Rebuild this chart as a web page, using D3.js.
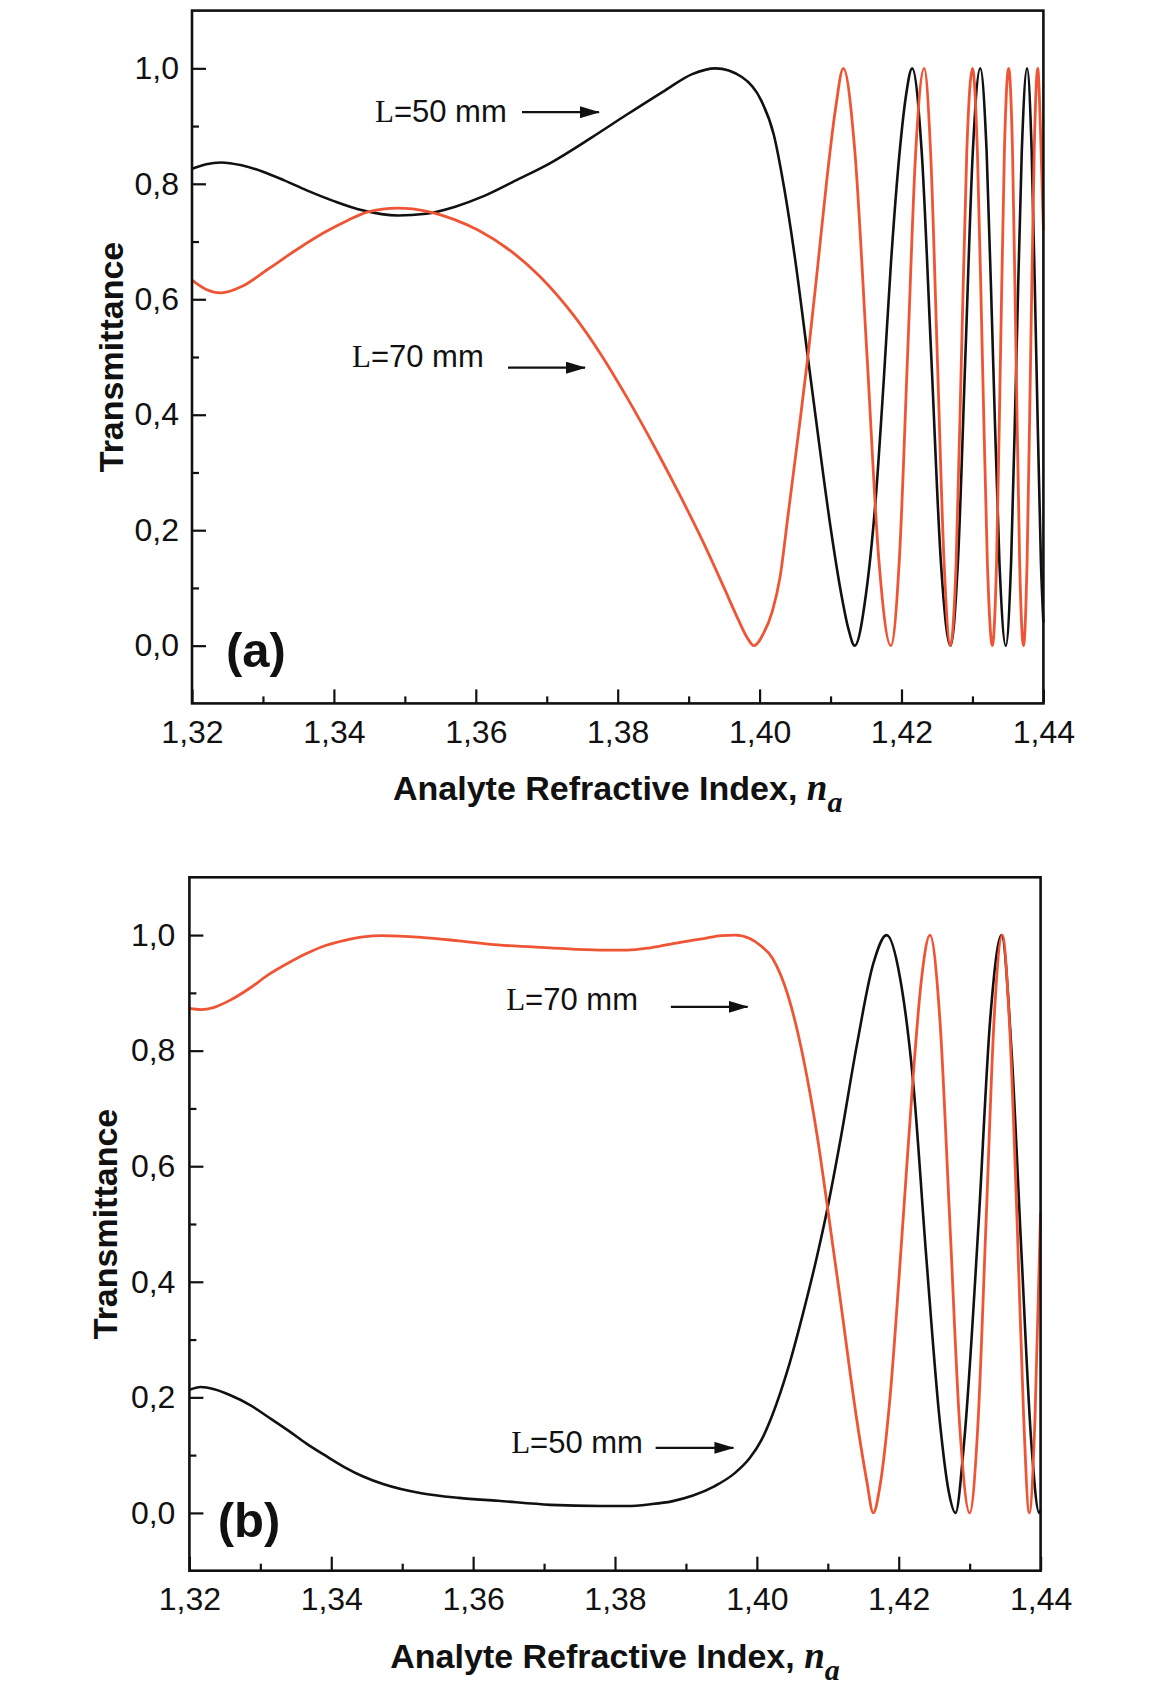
<!DOCTYPE html>
<html>
<head>
<meta charset="utf-8">
<script src="https://cdn.jsdelivr.net/npm/d3@7"></script>
<style>
  body { margin: 0; background: #fff; }
  svg { display: block; }
</style>
</head>
<body>
<svg id="chart"></svg>
<script>
// axis ticks
const xMajor = [1.32, 1.34, 1.36, 1.38, 1.40, 1.42, 1.44];
const xMinor = [1.33, 1.35, 1.37, 1.39, 1.41, 1.43];
const yMajor = [0, 0.2, 0.4, 0.6, 0.8, 1.0];
const yMinor = [0.1, 0.3, 0.5, 0.7, 0.9];

// panel (a): [refractive index, transmittance]
const aL50 = [
  [1.3200, 0.826], [1.3220, 0.834], [1.3241, 0.837], [1.3270, 0.832], [1.3300, 0.821],
  [1.3330, 0.806], [1.3361, 0.789], [1.3400, 0.770], [1.3440, 0.754], [1.3490, 0.745],
  [1.3530, 0.748], [1.3570, 0.760], [1.3612, 0.779], [1.3660, 0.808], [1.3705, 0.836],
  [1.3763, 0.880], [1.3813, 0.920], [1.3867, 0.962], [1.3905, 0.990], [1.3938, 1.000],
  [1.3975, 0.985], [1.4002, 0.945], [1.4020, 0.885], [1.4035, 0.790], [1.4050, 0.670],
  [1.4068, 0.500], [1.4085, 0.340], [1.4100, 0.205], [1.4115, 0.090], [1.4125, 0.030],
  [1.4134, 0.000], [1.4150, 0.090],
  [1.4164, 0.260], [1.4175, 0.460], [1.4185, 0.660], [1.4197, 0.850], [1.4206, 0.950],
  [1.4215, 1.000], [1.42285, 0.855], [1.4242, 0.500], [1.42555, 0.145], [1.4269, 0.000],
  [1.42795, 0.145], [1.4290, 0.500], [1.43005, 0.855], [1.4311, 1.000], [1.4320, 0.855],
  [1.4329, 0.500], [1.4338, 0.145], [1.4347, 0.000], [1.43545, 0.145], [1.4362, 0.500],
  [1.43695, 0.855], [1.4377, 1.000], [1.43835, 0.855], [1.4390, 0.500], [1.43965, 0.145],
  [1.4400, 0.040]
];
const aL70 = [
  [1.3200, 0.633], [1.3220, 0.617], [1.3241, 0.611], [1.3270, 0.622], [1.3307, 0.652],
  [1.3350, 0.688], [1.3387, 0.716], [1.3420, 0.737], [1.3447, 0.751], [1.3490, 0.758],
  [1.3533, 0.752], [1.3570, 0.738], [1.3603, 0.720], [1.3650, 0.683], [1.3690, 0.640],
  [1.3738, 0.572], [1.3775, 0.507], [1.3813, 0.430], [1.3856, 0.335], [1.3890, 0.255],
  [1.3921, 0.178], [1.3950, 0.100], [1.3970, 0.045], [1.3982, 0.015], [1.3992, 0.000],
  [1.4005, 0.020], [1.4018, 0.060], [1.4029, 0.120], [1.4040, 0.225], [1.4055, 0.370],
  [1.4068, 0.500], [1.4083, 0.670], [1.4095, 0.810], [1.4107, 0.930], [1.4118, 1.000],
  [1.4134, 0.860],
  [1.41515, 0.500], [1.4168, 0.150], [1.4185, 0.000], [1.4197, 0.150], [1.42085, 0.500],
  [1.4220, 0.855], [1.4232, 1.000], [1.4241, 0.855], [1.42505, 0.500], [1.4260, 0.145],
  [1.4269, 0.000], [1.4277, 0.145], [1.42845, 0.500], [1.4292, 0.855], [1.4300, 1.000],
  [1.4307, 0.855], [1.4314, 0.500], [1.4321, 0.145], [1.4328, 0.000], [1.4334, 0.145],
  [1.43395, 0.500], [1.4345, 0.855], [1.4351, 1.000], [1.43565, 0.855], [1.43615, 0.500],
  [1.43665, 0.145], [1.4372, 0.000], [1.4377, 0.145], [1.4382, 0.500], [1.4387, 0.855],
  [1.4392, 1.000], [1.4396, 0.890], [1.4400, 0.720]
];

// panel (b)
const bL50 = [
  [1.3200, 0.213], [1.3216, 0.218], [1.3235, 0.214], [1.3257, 0.204], [1.3285, 0.187],
  [1.3311, 0.166], [1.3340, 0.142], [1.3365, 0.120], [1.3392, 0.099], [1.3419, 0.079],
  [1.3445, 0.063], [1.3473, 0.050], [1.3527, 0.034], [1.3580, 0.026], [1.3635, 0.021],
  [1.3709, 0.014], [1.3779, 0.012], [1.3817, 0.012], [1.3850, 0.015], [1.3880, 0.020],
  [1.3910, 0.030], [1.3940, 0.046], [1.3968, 0.068], [1.3990, 0.095], [1.4006, 0.125],
  [1.4022, 0.170], [1.4044, 0.250], [1.4065, 0.345], [1.4084, 0.440], [1.4100, 0.530],
  [1.4117, 0.640], [1.4141, 0.810], [1.4164, 0.950], [1.4183, 1.000], [1.4202, 0.925],
  [1.4220, 0.750], [1.4239, 0.440], [1.4258, 0.157], [1.4270, 0.040], [1.4280, 0.000],
  [1.4292, 0.120], [1.43125, 0.500], [1.4329, 0.855], [1.4345, 1.000], [1.4359, 0.800],
  [1.4373, 0.450], [1.4387, 0.120], [1.4398, 0.000], [1.4400, 0.005]
];
const bL70 = [
  [1.3200, 0.873], [1.3216, 0.871], [1.3235, 0.875], [1.3257, 0.887], [1.3285, 0.908],
  [1.3311, 0.931], [1.3340, 0.952], [1.3365, 0.968], [1.3392, 0.982], [1.3419, 0.991],
  [1.3445, 0.997], [1.3473, 0.999], [1.3527, 0.996], [1.3580, 0.990], [1.3635, 0.983],
  [1.3709, 0.978], [1.3779, 0.974], [1.3817, 0.974], [1.3850, 0.978], [1.3890, 0.987],
  [1.3925, 0.994], [1.3950, 0.999], [1.3970, 1.000], [1.3990, 0.994], [1.4005, 0.982],
  [1.4022, 0.960], [1.4044, 0.895], [1.4065, 0.790], [1.4086, 0.645], [1.4100, 0.525],
  [1.4117, 0.375], [1.4141, 0.160], [1.4155, 0.055], [1.4164, 0.000], [1.4174, 0.050],
  [1.4187, 0.190], [1.4206, 0.505], [1.4220, 0.750], [1.4232, 0.923], [1.4244, 1.000],
  [1.4258, 0.854], [1.4272, 0.505], [1.4286, 0.150], [1.4300, 0.000], [1.43115, 0.150],
  [1.4323, 0.500], [1.43345, 0.855], [1.4346, 1.000], [1.4356, 0.850], [1.4367, 0.500],
  [1.4376, 0.170], [1.4384, 0.000], [1.4392, 0.160], [1.4400, 0.520]
];

const BLACK = "#111";
const RED = "#ef5535";
const sans = "'Liberation Sans', Arial, sans-serif";
const serif = "'Liberation Serif', 'Times New Roman', serif";

const svgWidth = 1151, svgHeight = 1686;
const svg = d3.select("#chart")
    .attr("width", svgWidth)
    .attr("height", svgHeight);

// arrow head used by the annotation arrows
svg.append("defs").append("marker")
    .attr("id", "arrowhead")
    .attr("markerUnits", "userSpaceOnUse")
    .attr("markerWidth", 20)
    .attr("markerHeight", 12)
    .attr("refX", 19)
    .attr("refY", 6)
    .attr("orient", "auto")
    .append("path")
    .attr("d", "M0,0 L20,6 L0,12 Z")
    .attr("fill", BLACK);

const comma = f => v => d3.format(f)(v).replace(".", ",");

const panels = [
  {
    left: 192, right: 1043.4, top: 10.6, bottom: 703.4,
    black: aL50, red: aL70, tag: "(a)", tagPos: [1.3248, -0.037],
    yLabelX: 123, yPad: 13,
    notes: [
      { text: "=50 mm", at: [1.34579, 0.907], arrow: [1.36651, 1.37736, 0.924] },
      { text: "=70 mm", at: [1.34255, 0.483], arrow: [1.36454, 1.37539, 0.4815] }
    ]
  },
  {
    left: 189.4, right: 1040.6, top: 877.3, bottom: 1570.7,
    black: bL50, red: bL70, tag: "(b)", tagPos: [1.3240, -0.041],
    yLabelX: 117, yPad: 14,
    notes: [
      { text: "=70 mm", at: [1.36466, 0.870], arrow: [1.38788, 1.39870, 0.8758] },
      { text: "=50 mm", at: [1.36536, 0.1032], arrow: [1.38573, 1.39670, 0.1126] }
    ]
  }
];

panels.forEach(drawPanel);

function drawPanel(p) {
    const width = p.right - p.left;
    const height = p.bottom - p.top;

    const g = svg.append("g")
        .attr("transform", "translate(" + p.left + "," + p.top + ")");

    const x = d3.scaleLinear().domain([1.32, 1.44]).range([0, width]);
    const y = d3.scaleLinear().domain([-0.1, 1.1]).range([height, 0]);

    // curves
    const line = d3.line()
        .x(d => x(d[0]))
        .y(d => y(d[1]))
        .curve(d3.curveMonotoneX);

    g.append("path")
        .datum(p.black)
        .attr("fill", "none")
        .attr("stroke", BLACK)
        .attr("stroke-width", 2.6)
        .attr("stroke-linejoin", "round")
        .attr("d", line);

    g.append("path")
        .datum(p.red)
        .attr("fill", "none")
        .attr("stroke", RED)
        .attr("stroke-width", 2.8)
        .attr("stroke-linejoin", "round")
        .attr("d", line);

    // bottom axis, ticks pointing in
    const xAxis = g.append("g")
        .attr("transform", "translate(0," + height + ")")
        .call(d3.axisBottom(x).tickValues(xMajor).tickSize(-14).tickPadding(17)
            .tickFormat(comma(".2f")));
    g.append("g")
        .attr("transform", "translate(0," + height + ")")
        .call(d3.axisBottom(x).tickValues(xMinor).tickSize(-7).tickFormat(""))
        .select(".domain").remove();

    // left axis
    const yAxis = g.append("g")
        .call(d3.axisLeft(y).tickValues(yMajor).tickSize(-14).tickPadding(p.yPad)
            .tickFormat(comma(".1f")));
    g.append("g")
        .call(d3.axisLeft(y).tickValues(yMinor).tickSize(-7).tickFormat(""))
        .select(".domain").remove();

    [xAxis, yAxis].forEach(a => {
        a.select(".domain").remove();
        a.selectAll("text")
            .attr("font-family", sans)
            .attr("font-size", 32)
            .attr("fill", BLACK);
    });
    g.selectAll(".tick line")
        .attr("stroke", BLACK)
        .attr("stroke-width", 2.2);

    // frame
    g.append("rect")
        .attr("width", width)
        .attr("height", height)
        .attr("fill", "none")
        .attr("stroke", BLACK)
        .attr("stroke-width", 2.6);

    // axis titles
    svg.append("text")
        .attr("transform", "translate(" + p.yLabelX + "," + (p.top + height / 2) + ") rotate(-90)")
        .attr("text-anchor", "middle")
        .attr("font-family", sans)
        .attr("font-weight", "bold")
        .attr("font-size", 34)
        .attr("fill", BLACK)
        .text("Transmittance");

    const xt = svg.append("text")
        .attr("x", p.left + width / 2)
        .attr("y", p.bottom + 97)
        .attr("text-anchor", "middle")
        .attr("font-family", sans)
        .attr("font-weight", "bold")
        .attr("font-size", 34)
        .attr("fill", BLACK);
    xt.append("tspan").text("Analyte Refractive Index, ");
    xt.append("tspan")
        .attr("font-family", serif)
        .attr("font-style", "italic")
        .attr("font-size", 37)
        .text("n");
    xt.append("tspan")
        .attr("font-family", serif)
        .attr("font-style", "italic")
        .attr("font-size", 30)
        .attr("dy", 12)
        .text("a");

    // panel tag
    g.append("text")
        .attr("x", x(p.tagPos[0]))
        .attr("y", y(p.tagPos[1]))
        .attr("font-family", sans)
        .attr("font-weight", "bold")
        .attr("font-size", 49)
        .attr("fill", BLACK)
        .text(p.tag);

    // annotations with arrows
    p.notes.forEach(n => {
        const t = g.append("text")
            .attr("x", x(n.at[0]))
            .attr("y", y(n.at[1]))
            .attr("font-size", 31)
            .attr("fill", BLACK);
        t.append("tspan").attr("font-family", serif).text("L");
        t.append("tspan").attr("font-family", sans).text(n.text);

        g.append("line")
            .attr("x1", x(n.arrow[0]))
            .attr("x2", x(n.arrow[1]))
            .attr("y1", y(n.arrow[2]))
            .attr("y2", y(n.arrow[2]))
            .attr("stroke", BLACK)
            .attr("stroke-width", 2.2)
            .attr("marker-end", "url(#arrowhead)");
    });
}
</script>
</body>
</html>
